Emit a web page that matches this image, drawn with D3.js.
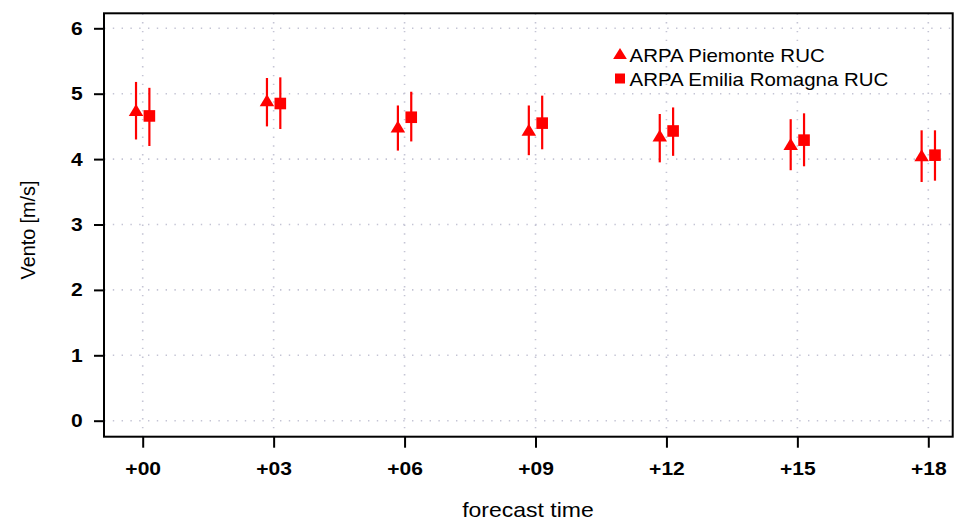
<!DOCTYPE html>
<html>
<head>
<meta charset="utf-8">
<script src="https://cdn.jsdelivr.net/npm/d3@7"></script>
<style>
  html, body { margin: 0; padding: 0; background: #fff; }
  svg { display: block; font-family: "Liberation Sans", Arial, Helvetica, sans-serif; }
</style>
</head>
<body>
<svg id="chart" width="957" height="520"></svg>
<script>
// Forecast lead times (hours) and their labels
const hours = [0, 3, 6, 9, 12, 15, 18];
const hourLabels = ["+00", "+03", "+06", "+09", "+12", "+15", "+18"];
const yTicks = [0, 1, 2, 3, 4, 5, 6];

// ARPA Piemonte RUC: mean wind and interval bounds (m/s)
const piemonteMean = [4.75, 4.90, 4.50, 4.45, 4.36, 4.23, 4.06];
const piemonteLow  = [4.30, 4.50, 4.13, 4.06, 3.95, 3.83, 3.65];
const piemonteHigh = [5.18, 5.24, 4.82, 4.82, 4.69, 4.61, 4.44];

// ARPA Emilia Romagna RUC: mean wind and interval bounds (m/s)
const emiliaMean = [4.66, 4.85, 4.64, 4.55, 4.43, 4.29, 4.06];
const emiliaLow  = [4.20, 4.46, 4.27, 4.15, 4.05, 3.89, 3.67];
const emiliaHigh = [5.09, 5.25, 5.03, 4.97, 4.79, 4.70, 4.44];

const seriesNames = ["ARPA Piemonte RUC", "ARPA Emilia Romagna RUC"];

const svg = d3.select("#chart");
const red = "#ff0000";
const wide = 1.15;     // horizontal stretch of the device font
const wideTick = 1.12;

// plot frame
const box = { left: 104, right: 952.7, top: 13.3, bottom: 436.7 };

const x = d3.scaleLinear().domain([0, 18]).range([142.7, 928.3]);
const y = d3.scaleLinear().domain([0, 6]).range([420.7, 28.3]);

// dotted grid
const grid = svg.append("g")
  .attr("stroke", "#c4c4d4")
  .attr("stroke-width", 1.6)
  .attr("stroke-dasharray", "1.4,7.4")
  .attr("fill", "none");
grid.selectAll("line.h").data(yTicks).join("line")
  .attr("class", "h")
  .attr("x1", box.left).attr("x2", box.right)
  .attr("y1", d => y(d)).attr("y2", d => y(d));
grid.selectAll("line.v").data(hours).join("line")
  .attr("class", "v")
  .attr("y1", box.top).attr("y2", box.bottom)
  .attr("x1", d => x(d)).attr("x2", d => x(d));

// frame
svg.append("rect")
  .attr("x", box.left).attr("y", box.top)
  .attr("width", box.right - box.left).attr("height", box.bottom - box.top)
  .attr("fill", "none").attr("stroke", "#000").attr("stroke-width", 2);

// y axis
const yAxis = d3.axisLeft(y).tickValues(yTicks).tickSize(10).tickPadding(9).tickFormat(d3.format("d"));
const gy = svg.append("g").attr("transform", `translate(${box.left},0)`).call(yAxis);
gy.select(".domain").remove();
gy.selectAll(".tick line").attr("stroke", "#000").attr("stroke-width", 2);
gy.selectAll(".tick text")
  .attr("fill", "#000").attr("font-size", 18.8).attr("font-weight", "bold")
  .attr("font-family", "Liberation Sans, Arial, sans-serif")
  .attr("transform", `scale(${wideTick},1)`);

// x axis
const xAxis = d3.axisBottom(x).tickValues(hours).tickSize(11).tickPadding(14)
  .tickFormat((d, i) => hourLabels[i]);
const gx = svg.append("g").attr("transform", `translate(0,${box.bottom})`).call(xAxis);
gx.select(".domain").remove();
gx.selectAll(".tick line").attr("stroke", "#000").attr("stroke-width", 2);
gx.selectAll(".tick text")
  .attr("fill", "#000").attr("font-size", 18.8).attr("font-weight", "bold")
  .attr("font-family", "Liberation Sans, Arial, sans-serif")
  .attr("transform", `scale(${wideTick},1)`);

// axis titles
svg.append("text")
  .attr("transform", `translate(528,516.5) scale(${wide},1)`)
  .attr("text-anchor", "middle").attr("font-size", 20).attr("fill", "#000")
  .text("forecast time");
svg.append("text")
  .attr("transform", `translate(35,230) rotate(-90) scale(1.04,1.1)`)
  .attr("text-anchor", "middle").attr("font-size", 19).attr("fill", "#000")
  .text("Vento [m/s]");

const shift = 0.153; // horizontal dodge in hours

function tri(g, cx, cy, w, h) {
  g.append("path")
    .attr("d", `M${cx - w / 2},${cy + h / 2} L${cx + w / 2},${cy + h / 2} L${cx},${cy - h / 2} Z`)
    .attr("fill", red);
}

const series = [
  { mean: piemonteMean, low: piemonteLow, high: piemonteHigh, dx: -shift, shape: "tri" },
  { mean: emiliaMean, low: emiliaLow, high: emiliaHigh, dx: shift, shape: "sq" }
];

const marks = svg.append("g");
series.forEach(s => {
  const g = marks.append("g");
  g.selectAll("line").data(hours).join("line")
    .attr("x1", d => x(d + s.dx)).attr("x2", d => x(d + s.dx))
    .attr("y1", (d, i) => y(s.low[i])).attr("y2", (d, i) => y(s.high[i]))
    .attr("stroke", red).attr("stroke-width", 2.2);
  hours.forEach((h, i) => {
    const cx = x(h + s.dx), cy = y(s.mean[i]);
    if (s.shape === "tri") tri(g, cx, cy, 14.5, 12);
    else g.append("rect").attr("x", cx - 5.8).attr("y", cy - 5.8)
      .attr("width", 11.6).attr("height", 11.6).attr("fill", red);
  });
});

// legend
const lg = svg.append("g");
tri(lg, 620, 53.6, 13.7, 11);
lg.append("rect").attr("x", 615).attr("y", 73.5).attr("width", 10).attr("height", 10).attr("fill", red);
lg.selectAll("text").data(seriesNames).join("text")
  .attr("transform", (d, i) => `translate(629.5,${61.7 + i * 24.5}) scale(${wide},1)`)
  .attr("font-size", 17.8).attr("fill", "#000")
  .text(d => d);
</script>
</body>
</html>
